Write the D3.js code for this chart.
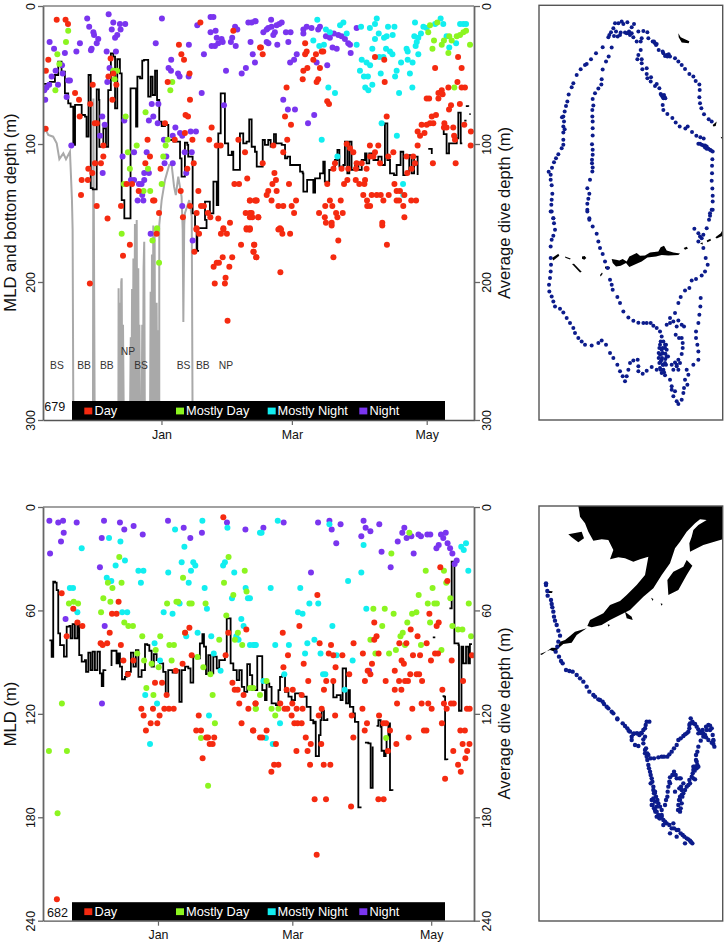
<!DOCTYPE html>
<html>
<head>
<meta charset="utf-8">
<style>html,body{margin:0;padding:0;background:#fff}svg{display:block}text{font-family:"Liberation Sans",Arial,sans-serif}</style>
<script src="https://cdnjs.cloudflare.com/ajax/libs/d3/7.8.5/d3.min.js"></script>
</head>
<body>
<svg id="chart" width="727" height="944"></svg>
<script>
// ---- shared labels ----
const monthTickDays = [0, 59, 120];
const monthTickLabels = ["Jan", "Mar", "May"];
const legendLabels = ["Day", "Mostly Day", "Mostly Night", "Night"];
const legendColors = ["#f52a10", "#8cf520", "#12eef0", "#7a35ef"];
const ticksTop = [0, 100, 200, 300];
const ticksBottom = [0, 60, 120, 180, 240];
const regionLabels679 = [["BS",-47.3,263],["BB",-35,263],["BB",-24.7,263],["NP",-15.2,253],["BS",-9.2,263],["BS",10,263],["BB",18.7,263],["NP",29.2,263]];

// ---- seal 679: [day relative to 1 Jan, depth m] ----
const mld679 = [[-53.5,56.5],[-50.5,55],[-48.2,50],[-46.7,40.3],[-45.2,47.6],[-43.7,63.3],[-42.2,70.5],[-41.1,73],[-39.9,100.7],[-39.1,71.7],[-37.6,71.7],[-36.1,79],[-34.6,80.2],[-33.9,94.7],[-33,50],[-32,50],[-32,132],[-31.1,132.9],[-29.3,60.4],[-28.3,68],[-28.1,102],[-27.1,102],[-26.3,88.6],[-25.1,102],[-24.1,60.9],[-22.9,34.3],[-21.8,36.7],[-21,74.2],[-20,38.6],[-18.8,48.8],[-18,140.6],[-16.8,153.9],[-16.1,153.9],[-14,59.7],[-13,59.7],[-11.5,87.4],[-10.9,51.2],[-9.7,52.4],[-8.7,39.6],[-7.9,39.1],[-6,65.7],[-4.9,51.2],[-4,64.5],[-2.9,46.9],[-2,68.1],[-1,83.8],[0.1,87],[1.6,86.2],[3.1,97.1],[5.4,98.3],[8.4,110.4],[9.1,123.7],[10.6,99],[11.7,100.7],[12.1,109.2],[12.9,109.2],[14.1,150.2],[15.2,161.1],[15.9,177.5],[17,177.5],[16.2,161],[18.2,161],[20.4,155],[19.7,141.8],[21.2,141.8],[21.9,150.2],[23.5,127.3],[25,144.2],[25.7,92.3],[26.8,63.3],[27.7,63.3],[28.7,99.5],[30.2,108],[31.8,105.6],[32.5,118.8],[34,118.8],[35.5,92.3],[37,99.5],[38.5,98.3],[39.7,82.1],[40.8,102],[42.3,105.6],[43.1,116.4],[44.3,116.4],[45.8,97.1],[46.8,100.7],[48.3,97.1],[49.4,101.9],[50.9,92.8],[51.8,99.5],[54.4,100.7],[55.9,110.4],[56.9,109.2],[58.2,115.2],[61.2,115.2],[62.7,120],[63.9,121.3],[64.2,134.5],[65.7,134.5],[65.9,126],[67.5,126],[68.7,135.3],[69.5,124.9],[71.7,121.3],[73.2,112.8],[73.9,127.3],[75.9,118.8],[78.5,111.6],[79.6,104.3],[80.5,116.4],[82.3,115.2],[83,98.3],[84.1,121.3],[85,98.3],[86,118.8],[87.6,114],[89.1,118.8],[90.6,111.6],[92.1,106.8],[92.8,114],[94,106.8],[95.9,111.6],[98.1,109.2],[99.6,115.2],[101.1,85],[102.2,111.6],[103.4,121.3],[105.2,122.5],[106.4,115.2],[108.2,105.6],[109.4,122.5],[110.9,121.3],[112.1,108],[113.2,121.3],[114.3,109.2],[115.9,122.5],null,[120.7,103.6],[121.5,103.6],[122.3,107.2],null,[127.2,87],[127.7,92.8],[129,106.8],[130.1,99.5],[131.3,99.5],[133.6,95.9],[134.3,77.3],[135.1,77.3],[135.4,99.5],[136.1,99.5],null,[137.7,72.5],[138.8,73],null,[139.3,78.3],[139.9,78.3],null,[137,83.1],[138,83.1]];
const bottom679 = [[-53.5,92.3],[-52.7,88.6],[-51.2,93.5],[-49,94.7],[-47.4,99.5],[-46.2,111],[-44.4,106.8],[-43.2,111],[-41.4,105.6],[-40.5,140.6],[-40.2,162],[-39.9,286.7],[-39.7,310],[-31,310],[-30.8,67],[-30.2,310],[-19.5,310],[-19.4,204.6],[-19.1,310],[-18.8,215],[-18.5,310],[-18.2,200],[-18,197.3],[-17.7,310],[-17.4,231],[-17,310],[-14.3,310],[-13.9,240],[-13.6,310],[-13.3,205],[-13,310],[-12.7,183],[-12.4,310],[-12,158],[-11.7,310],[-11.2,155],[-10.9,310],[-10.5,190],[-10.2,310],[-10,231],[-9.7,310],[-9,310],[-8.7,231],[-8.4,310],[-8.1,190],[-7.8,170.8],[-7.5,310],[-7.3,310],[-5.2,310],[-4.9,207],[-4.6,310],[-4.3,180],[-4,310],[-3.7,159],[-3.4,310],[-3.1,166],[-2.8,310],[-2.5,250],[-2.2,215],[-1.9,310],[-1.6,235],[-1.3,310],[-1,310],[-1,158.7],[0.1,140.6],[1.6,126],[3.5,115.2],[4.6,115.2],[5.7,130.9],[6.5,137],[7.6,123.7],[9.1,138.2],[9.6,162],[9.9,229],[10.3,158.7],[10.6,150.2],[12.6,140.6],[13.7,152.7],[14.1,310],[14.6,310]];
const night679 = [[-33.6,9],[-23.9,6],[-32.7,15],[-21.8,12],[-18.8,13],[-16.4,13],[-18.5,17],[-22.5,17],[-30.8,19],[-30.5,21],[-28.6,24],[-29.3,27],[-36.9,27],[-50.6,26],[-48.6,31],[-43.7,34],[-38.5,33],[-31.9,32],[-31.6,31],[-24.8,33],[-20.6,33],[-20,21],[-21,23],[0.2,9],[-2.6,27],[12.4,28],[4.4,39],[3.2,45],[4.3,47],[7.5,49],[8.2,51],[12.3,51],[16.2,14],[22.2,8],[23.5,8],[22.2,19],[24.5,18],[25,23],[27.2,24],[27.7,26],[25.7,27],[24.2,29],[22.7,29],[19.2,35],[31.4,26],[32,23],[33.6,29],[33.3,15],[34.3,17],[39.3,12],[40.8,12],[42.6,11],[40.3,26],[41.3,35],[42.3,41],[38.2,45],[36.3,49],[29.2,47],[18.2,63],[28.3,72],[-45,43],[-44.7,49],[-47.9,47],[-49.7,51],[-46.8,57],[-50.8,57],[-52,59],[-53,61],[-52.6,68],[-42.9,66],[-42.2,54],[-41.4,54],[-23.5,45],[-24.5,55],[-4.4,71],[-1.4,71],[-26.8,80],[-25.7,86],[-27.8,94],[-16.8,83],[-3.7,80],[-5.7,83],[-1.7,85],[6.3,88],[5.1,94],[8.4,92],[9.4,94],[13.2,91],[15.6,91],[1.1,97],[-40.8,101],[-17.6,109],[-12.4,106],[-6.7,106],[2.2,109],[1.4,114],[5.1,114],[10.5,106],[13.7,106],[11.2,121],[-26.6,121],[-13.8,126],[-12.4,126],[-7.8,121],[-5.7,121],[-7.8,126],[-10.2,129],[-9,129],[-8.7,137],[-10.8,141],[-8.2,141],[9.4,145],[-4.9,165],[14.1,170],[49.6,10],[42.3,11],[54.4,12],[53.3,13],[52.1,14],[49.8,15],[48.3,16],[46.1,19],[47.6,17],[51.3,19],[50.6,21],[56.3,19],[58.4,19],[64.2,17],[64.2,20],[65.7,15],[67.9,16],[71.7,15],[70.9,17],[74.4,22],[76.2,23],[78,20],[80,21],[81.5,22],[83,24],[84.5,27],[88.3,16],[85.6,34],[47.6,26],[48.4,27],[52.4,28],[57.4,26],[58.2,41],[60,39],[61.2,35],[70.2,41],[75,43],[55.1,68],[57.2,75],[60.4,75],[69.1,79],[66.3,85],[77.4,30],[79.3,31],[85.3,28]];
const mostlyNight679 = [[70.5,10],[82.3,12],[80.8,14],[74.4,17],[76.2,19],[83.8,20],[68.7,25],[71.4,29],[73.5,28],[90.3,15],[94.3,16],[97.4,9],[96.6,13],[102.5,15],[105.4,15],[98.3,20],[104.6,21],[101.9,22],[100.7,23],[96.6,24],[88.3,28],[95.4,31],[101.6,31],[103.4,33],[104.5,35],[98.6,37],[100.4,37],[110.9,31],[111.4,33],[90.6,39],[92.8,41],[94.4,43],[89.8,47],[91.6,51],[93.4,51],[92.2,59],[93.6,61],[95.4,57],[99.2,49],[106.4,47],[105.7,51],[108.4,41],[111.4,39],[113.6,41],[112.4,49],[113.5,59],[107.5,63],[114.7,12],[120,16],[118.5,15],[117.4,20],[114.4,22],[115.5,26],[116.2,23],[115,29],[116.2,35],[126.3,9],[123.8,13],[127.5,13],[136.6,13],[135.1,13],[137.8,13],[129,22],[130.2,30],[133.3,27],[75.5,59],[78.5,63],[99.6,85],[106.5,94],[72.5,97],[79.6,109],[109.3,129],[109.4,137]];
const mostlyDay679 = [[121.5,14],[124.8,12],[120.7,19],[123.3,25],[126.8,28],[122.6,31],[129.8,34],[127.8,25],[130.2,22],[131.3,25],[133.6,22],[135.1,21],[136.6,19],[137.8,18],[139.6,28],[132.5,59],[-42.2,18],[-43.2,26],[-47.1,35],[-46.2,42],[-21.8,47],[-20.1,47],[-21.2,53],[-48,61],[4.9,55],[4,61],[-7.2,77],[-16.2,80],[-11.2,101],[-15.2,106],[1.9,101],[2.8,97],[-14.3,118],[-6.1,118],[-17,129],[0.1,129],[-8.1,134],[-5.1,134],[-2,161],[0.8,109],[-18,165],[-2,162],[-4.1,170],[-1.1,186]];
const day679 = [[-47.4,10],[-43.4,10],[-42.3,13],[-51.2,39],[-52.3,47],[-23,38],[-24,51],[-21.8,49],[-20.4,57],[-31.1,57],[-39.1,63],[-37.3,68],[-32.2,71],[-22.2,68],[-37,80],[-30.2,85],[-29.2,85],[-26.3,101],[-26.3,109],[-30.1,114],[-27.4,114],[-33.1,118],[-31.3,121],[-36.1,126],[-33.3,126],[-36.4,137],[-29.3,145],[-24.4,154],[-18.3,145],[-15.8,129],[-13.3,129],[-10.3,134],[-7.3,114],[-5.2,109],[-6.3,97],[-3.8,141],[-3.2,141],[-1.1,150],[-0.4,118],[1.6,85],[2.8,55],[12.7,49],[9,35],[10.2,39],[7.9,28],[17.6,12],[32.5,18],[12.9,68],[10.9,79],[12,80],[10.6,92],[6,97],[14,97],[14.6,114],[11.7,118],[8.7,134],[16.7,134],[12.9,145],[9.7,153],[15.9,150],[17.9,145],[19.2,145],[21,150],[22.1,153],[25.7,154],[22.7,88],[21.6,97],[25,101],[26.8,101],[34.8,97],[37.8,106],[33,129],[35.1,129],[38.8,125],[40,141],[42.8,141],[38.1,150],[40.8,150],[41.1,153],[43.8,153],[31,157],[28,161],[38.5,161],[40,161],[15.9,161],[44.6,30],[-52.4,89],[-14.3,173],[-17.4,181],[-2.2,165],[-32.4,201],[15.8,162],[17,165],[14.9,178],[24.1,201],[28.7,201],[29,197],[23.6,189],[25,186],[26,186],[27.7,182],[32,182],[30.7,189],[29.9,228],[36,173],[41.9,173],[41.6,178],[42.9,182],[26.9,165],[29.6,165],[28,162],[38.5,162],[39.7,162],[45,30],[45.8,35],[65,27],[65.7,33],[65,35],[69.9,35],[72.5,33],[73.2,33],[68.7,39],[71.7,45],[66,45],[64.2,47],[63.9,53],[70.9,53],[70.2,55],[56.6,59],[75,69],[75.8,71],[55.9,80],[58.6,86],[56.9,97],[45.8,114],[96.6,37],[100.8,39],[101,55],[134.2,37],[123.8,45],[135.8,45],[133.9,55],[129.8,59],[135.8,59],[137.3,59],[126.8,61],[125.3,63],[127.2,64],[120,67],[121.1,67],[125.3,67],[135,71],[131,72],[130.1,75],[122.3,80],[124.2,79],[121.5,85],[123,85],[117.7,86],[120,86],[115.9,91],[117,94],[119,92],[128,85],[127.8,88],[129,88],[132,88],[137,86],[140,91],[132.4,94],[132.8,97],[115.9,101],[139.9,101],[101.9,80],[122.8,114],[133.1,114],[104.9,106],[102.6,109],[94.3,101],[98.1,101],[96.6,106],[83.8,100],[85.3,103],[86.8,106],[50.6,101],[55.1,106],[78.5,114],[77.8,118],[81.5,118],[84.5,118],[88.3,114],[90.6,114],[92.8,118],[88,118],[94.4,109],[95.9,109],[98.9,114],[110.9,109],[113.9,109],[114.7,114],[113.2,118],[111.2,121],[51.1,121],[51.8,126],[50.2,129],[48.3,134],[52.1,134],[47.6,137],[57.7,129],[42.3,141],[43.1,141],[49.8,141],[52.9,145],[55.1,145],[58.9,145],[60.9,141],[60,150],[75,129],[84.1,126],[82.6,129],[87.9,126],[92.1,126],[89.5,129],[91.8,129],[91.3,137],[93,141],[95.1,137],[97.4,137],[99.2,137],[102.8,137],[106.4,141],[107.5,141],[109.9,137],[113,141],[115.2,141],[93.1,145],[94.4,145],[100.4,141],[105.4,129],[106.4,134],[107.9,134],[76.2,141],[81.1,141],[74.1,145],[77.3,145],[79,150],[71.3,150],[82,150],[73.9,153],[79.6,153],[74.4,157],[77,157],[99.9,157],[109.9,153],[53.6,161],[43.8,153],[40,153],[40,150],[109.4,145],[40,141],[40,162],[52.9,162],[54.1,162],[54.7,165],[58.2,165],[77,159],[99.9,159],[80,170],[42,173],[41.7,178],[42.9,182],[77.8,182],[53.8,193],[102,173]];

// ---- seal 682 ----
const mld682 = [[-47.7,77.4],[-46.7,87],[-46.3,87],[-46,43.3],[-45.2,43.9],[-44.5,48.2],[-43.8,73.3],[-43,80.1],[-41.9,80.1],[-41.3,86.8],[-40.1,69.4],[-38.9,69],[-38.4,76.2],[-37.5,67.9],[-36.5,76.2],[-35.4,66.5],[-34.6,85.9],[-33.5,89.7],[-32.1,88.8],[-31.6,95.6],[-30.6,84.5],[-29.6,94.6],[-28.7,83.9],[-27.7,94.6],[-26.6,83.9],[-25.5,96.5],[-24.7,103.9],[-24,94.6],[-23.1,94.2],null,[-20.8,91.7],[-20.4,83.4],[-19.3,83.4],[-18.2,90.7],[-17.4,84.9],[-16.7,92.6],[-15.8,100],[-14.5,98.5],[-13.8,95.6],[-12.6,95.6],[-11.9,84.5],[-10.8,92.6],[-9.7,83],[-8.6,98.5],[-7.2,94.6],[-5.7,79.5],[-4.7,80.1],[-3.8,83.4],[-2.8,92.6],[-1.8,85.3],[-0.6,88.8],[0.9,90.7],[2.3,95.6],[3.4,109.1],[4.5,94.6],[6.4,96.1],[8.2,94.6],[9.4,113],[10.4,94.6],[11.9,92.6],[13.3,93.6],[14.3,101.9],[15.5,86.8],[17,87.8],[18.4,79.1],[19.5,73.7],[20.2,81],[21.1,96.9],[22.1,85.9],[23.1,96.5],[24.3,86.8],[25.8,93.6],[26.9,88.8],[28,88.8],[29.4,86.8],[30.2,64.6],[30.9,64.6],[31.9,90.7],[33.1,94.6],[34.6,100.4],[35.7,94.6],[36.8,104.3],[37.9,107.2],[39.2,91.1],[40.4,97.5],[41.4,106.2],[43.6,86.5],[44.8,86.5],[45.8,106.2],[47,112],[47.7,102.3],[48.9,104.3],[49.9,113.9],[51.8,114.9],[52.9,106.2],[53.6,98.5],[54.6,97.5],[55.8,107.2],[57.3,110],[58.7,112],[60.2,108.1],[62.4,109.1],[63.8,110],[65.3,115.9],[67,123.6],[68.2,125.5],[69,124.5],[69.3,144.5],[70.1,144.5],[70.7,132.3],[71.4,123.6],[71.9,118.2],[72.9,123.6],[74.4,122.6],null,[76.4,102.3],[77,110.4],[78.5,109.1],[80.2,112],[81.1,93.6],[81.9,93.6],[82.6,113.9],[83.6,106.2],[84.3,115.9],[85.8,119.7],[86.5,124.6],[88,133.3],[88,174.3],[89,174.7],null,[90.9,136.7],[92.4,137.1],[93.4,162.9],[94,162.9],[94.3,139],null,[96,127],[96.8,123.6],[97.8,127.5],[98.2,141.4],[99.3,144.5],[100,142.6],[100.4,133.3],[101.2,125.5],[101.9,164.2],[103,164.6],null,[120.7,75.6],[121.8,75.6],null,[125,109.7],[125.6,110],[126.1,146.4],[127.1,146.8],null,[128,58.8],[128.7,58.8],[129,31.7],[129.9,31.7],[130.2,79.1],[132,80.1],[132.2,118.2],[132.7,118.2],[133.3,81],[134.1,90.7],[135.3,81],[136.3,90.7],[137,79.5],[137.9,79.5]];
const night682 = [[-47.7,8],[-43.8,9],[-41.7,8],[-35.7,9],[-41.4,15],[-42.6,20],[-47.4,27],[-23.7,8],[-16.7,9],[-10.7,11],[-14.8,13],[-24.7,18],[-6.7,16],[4.4,8],[11.3,12],[14.2,18],[19.3,15],[30.3,9],[38.4,13],[-25.5,35],[-40.6,65],[-23.4,69],[-24.6,114],[46.3,12],[55.2,9],[70.3,9],[75.3,8],[76.3,13],[80.2,10],[90.3,8],[91.2,12],[93.3,14],[97.2,10],[78.3,21],[89.3,17],[67.2,38],[98.2,26],[102.2,35],[105.3,20],[107.3,15],[108.2,12],[109.2,18],[111.3,17],[114.4,16],[115.5,17],[118.3,16],[119.6,16],[124.3,16],[126.4,15],[125.3,18],[123.3,22],[122.3,24],[127.2,21],[128.3,24],[129.3,27],[131.2,31],[130.3,33],[112.3,27],[92.7,95]];
const mostlyNight682 = [[-21.5,18],[-16.5,20],[-33.5,24],[19.5,8],[7.5,13],[30.5,12],[11.6,23],[44.8,15],[-14.5,31],[-18.6,34],[10.4,32],[15.5,32],[16.4,34],[14.5,37],[-8.6,37],[-6.4,37],[4.5,38],[29.4,32],[28.6,34],[33.5,38],[-22.5,41],[-20.5,43],[-7.5,44],[13.5,44],[-38.7,47],[-37.3,47],[20.5,47],[38.5,47],[32.5,53],[39.5,53],[-35.4,61],[-15.7,61],[-13.5,61],[2.5,61],[9.5,56],[6.4,62],[21.5,59],[36.6,65],[37.6,69],[17.4,73],[12.4,75],[23.4,75],[34.4,75],[35.4,77],[-1.5,79],[41.9,80],[43,80],[24.5,85],[0.9,89],[27.5,95],[-5.6,109],[-0.4,114],[22.4,121],[-3.5,137.5],[53.6,125.5],[47.4,134],[50.4,137.5],[45.5,15],[52.6,8],[75.3,10],[90.3,22],[89.3,38],[83.5,43],[49.5,47],[62.5,47],[66.5,56],[70.4,56],[61.5,61],[63.5,62],[76.6,69],[91.5,59],[133.2,23],[135.3,21],[134.3,25],[136.3,37],[40.4,53],[68.7,77],[65.6,79],[40.4,80],[42.5,80],[51.5,80],[57.5,80],[64.6,85],[71.4,85],[78.5,86],[85.5,89],[55.5,97],[72.5,97],[73.5,97],[46.3,101],[82,106]];
const mostlyDay682 = [[-17,29],[31,29],[38.1,37],[11,41],[29,44],[-16,44],[-22,44],[-20,47],[38.9,49],[33.1,51],[-24,53],[-20.9,55],[-39.1,56],[-37,55],[-35.1,56],[8.1,55],[8.9,55],[4,56],[13.8,56],[14.8,56],[20.9,56],[-25,61],[30,63],[-14.8,67],[-13,69],[-11,69],[11.9,73],[-6.9,75],[1,75],[35.1,73],[26.9,77],[33.8,77],[37,80],[-1,83],[5,80],[7,80],[-9.1,85],[-6.1,89],[-2.8,91],[0.3,93],[6,89],[17.3,87],[19.9,93],[23,97],[-5.1,105],[-2,109],[24,109],[-42.2,114],[40.4,105],[41.9,105],[43,117],[-47.9,141.6],[-40,141.6],[-44.1,177.6],[25,125.5],[18.9,134],[22,161.7],[100.2,134],[102.5,27],[110.4,15],[117.6,37],[125.6,37],[120.6,47],[126.6,44],[114.5,51],[128.4,53],[118.5,56],[121.4,56],[122.5,56],[136.5,56],[94.6,59],[99.6,59],[103.5,62],[111.6,62],[113.5,61],[109.5,67],[98.5,69],[119.5,67],[107.5,73],[106.5,75],[129.3,69],[131.8,71],[133.7,71],[137.5,75],[93.3,77],[104.5,83],[108.5,80],[115.5,80],[124.5,83],[95.5,85],[101.5,85],[47.7,101],[44.8,109],[42.9,117],[49.9,117],[52.9,117],[51.5,121]];
const day682 = [[28.7,6],[-42.3,50],[-17.3,55],[-37.2,59],[-20.2,62],[-18.2,62],[-35.4,67],[-33.2,69],[-21.2,73],[-40.1,75],[-25.2,79],[-24.3,80],[-22.3,79],[-16.3,80],[-15.2,89],[-10.8,89],[-13.2,97],[-1.3,102],[1.8,102],[3.8,109],[10.8,91],[7.8,95],[13.8,70],[14.8,86],[30.9,73],[38.8,71],[29.7,86],[32.7,102],[33.7,106],[35,106],[37.6,109],[35.7,114],[42.8,114],[39.7,117],[-7.3,117],[-2.2,117],[-6.3,121],[0.7,121],[2.8,117],[4.8,117],[6.9,117],[17.9,121],[11.9,73],[-3.2,125.5],[-0.3,125.5],[-5.3,129.6],[16.8,129.6],[18.9,129.6],[21.2,133.7],[22,133.7],[24.7,133.7],[22.7,137.5],[24,137.5],[19.6,145.7],[36.7,125.5],[41.7,129.6],[44.8,133.7],[-44.4,227.6],[41.9,129.6],[47.7,129.6],[45.8,133.7],[51.8,137.5],[59.9,125.5],[61.3,125.5],[63.1,125.5],[64.9,133.7],[67.1,137.5],[71.7,137.5],[60.8,141.6],[65.7,141.6],[51,149.5],[52.9,149.5],[49.8,153.6],[66.8,149.5],[72.8,149.5],[75.7,149.5],[68.8,169.6],[73.8,169.6],[69.7,201.7],[84.8,173.7],[85.8,133.7],[90.8,129.6],[91.8,125.5],[99,125.5],[100.2,125.5],[101.9,129.6],[104.7,137.5],[101,141.6],[110.1,133.7],[96.8,169.6],[99.1,169.6],[116.8,129.6],[117.9,129.6],[124.7,125.5],[129.7,141.6],[131.8,149.5],[133,153.6],[132.8,129.6],[134.8,129.6],[133.8,137.5],[136.8,137.5],[135.8,141.6],[135,145.7],[126.1,157.6],[70,51],[124,35],[127.1,43],[119.2,62],[123.3,67],[122.4,69],[111,71],[95,67],[62.1,69],[54.8,73],[96,75],[95,77],[114,75],[118,79],[71,79],[85.9,79],[106,79],[109.1,79],[76,80],[121.7,85],[123,85],[75,85],[77,86],[81,86],[90,85],[96.9,85],[57.1,86],[112,86],[115.1,86],[119.9,89],[107,89],[108,91],[129,89],[64,91],[94,91],[55.1,93],[78,93],[92.1,95],[104,95],[93.3,97],[84,97],[110.8,97],[113.6,97],[114.7,97],[66,101],[73.9,101],[77,101],[90.9,101],[100,101],[105.9,101],[108.5,101],[109.8,101],[116,101],[134,101],[72.9,106],[104,106],[106.9,106],[124.9,106],[56.5,106],[59.2,106],[105,114],[115.8,114],[118.7,114],[125.6,114],[128.7,114],[129.9,114],[53.7,114],[42.9,114],[63.1,109],[59,114],[89.8,117],[111.7,117],[120.2,117],[126.8,117],[135.7,117],[136.9,117],[55.6,117],[56.8,117],[60.9,117],[63.5,117],[71.9,117],[58.7,121],[70.6,121],[77.8,121],[85.1,121],[97.1,121],[137.9,86]];

// ---- maps: [east, south] in arbitrary map units measured from the map frame ----
const track679 = [[255,70],[265,70],[275,65],[280,72],[292,67],[312,72],[305,82],[250,85],[243,97],[258,95],[235,112],[238,105],[252,108],[263,110],[272,98],[285,98],[297,95],[300,105],[310,112],[320,125],[332,125],[335,115],[325,95],[340,93],[352,97],[355,115],[290,100],[295,100],[270,105],[305,100],[218,142],[198,160],[183,178],[170,192],[165,195],[152,208],[140,225],[130,250],[125,262],[116,284],[112,305],[108,318],[104,335],[100,350],[96,352],[102,365],[100,380],[104,388],[100,398],[100,420],[100,435],[95,445],[85,463],[78,475],[72,487],[66,504],[56,516],[62,525],[62,540],[65,556],[67,582],[65,600],[64,615],[62,635],[70,655],[245,143],[236,170],[228,185],[218,209],[215,238],[214,254],[205,266],[195,280],[188,297],[190,317],[187,330],[187,350],[188,365],[188,385],[188,407],[186,433],[188,450],[188,465],[186,480],[186,490],[188,503],[187,515],[180,540],[172,565],[178,582],[175,597],[172,612],[172,630],[178,655],[332,150],[325,165],[322,178],[335,178],[335,190],[337,208],[350,205],[350,222],[352,235],[363,232],[362,245],[375,258],[380,252],[388,265],[392,282],[397,290],[404,292],[394,285],[398,288],[400,295],[406,295],[402,285],[398,315],[400,330],[412,342],[427,354],[437,368],[449,380],[466,386],[473,380],[486,396],[499,408],[511,412],[521,416],[505,432],[510,432],[515,435],[520,437],[525,437],[525,443],[530,440],[530,447],[535,447],[540,450],[543,452],[548,455],[372,125],[368,125],[375,130],[380,132],[378,135],[386,150],[398,155],[400,160],[405,168],[410,165],[412,170],[416,163],[420,170],[435,175],[445,185],[455,195],[465,207],[478,222],[490,230],[497,243],[508,254],[509,270],[508,292],[510,310],[514,325],[522,343],[536,358],[545,365],[547,478],[546,498],[546,520],[545,543],[547,566],[548,588],[548,605],[545,630],[540,648],[65,635],[70,655],[72,670],[75,690],[70,708],[65,720],[62,740],[62,775],[63,795],[62,815],[60,835],[57,855],[58,875],[65,890],[70,905],[75,920],[90,927],[100,938],[110,955],[120,970],[130,985],[135,1000],[145,1015],[155,1025],[165,1035],[185,1037],[205,1030],[215,1022],[228,1035],[240,1060],[250,1075],[262,1095],[270,1115],[278,1130],[285,1145],[290,1130],[295,1110],[300,1090],[310,1082],[323,1080],[325,1100],[325,1115],[338,1122],[350,1113],[365,1102],[380,1110],[395,1120],[405,1127],[420,1140],[425,1160],[425,1170],[435,1175],[430,1190],[440,1205],[445,1213],[455,1200],[460,1180],[462,1165],[472,1155],[465,1140],[475,1125],[470,1110],[490,1095],[505,1080],[505,1055],[502,1035],[498,1015],[498,995],[505,970],[508,945],[511,920],[512,895],[172,635],[178,660],[188,680],[200,702],[205,725],[210,745],[218,763],[225,785],[233,805],[240,840],[245,855],[248,870],[262,892],[270,910],[280,935],[295,953],[310,963],[325,969],[340,970],[350,970],[362,970],[370,978],[380,985],[390,995],[395,1010],[400,1025],[390,1035],[395,1050],[405,1045],[390,1065],[395,1080],[400,1095],[390,1105],[400,1110],[410,1070],[405,1035],[398,1060],[392,1085],[405,1090],[392,1025],[408,1035],[388,1045],[398,1045],[410,1050],[386,1060],[396,1062],[406,1062],[414,1070],[386,1075],[396,1075],[406,1078],[388,1090],[398,1095],[408,1095],[392,1110],[402,1118],[410,975],[420,955],[435,940],[445,910],[452,892],[465,872],[478,865],[485,842],[498,838],[515,827],[525,815],[533,795],[527,775],[520,745],[505,725],[510,710],[520,705],[505,700],[515,715],[493,687],[530,685],[537,660],[540,640],[548,630],[420,970],[430,965],[445,962],[455,975],[462,980],[440,980],[437,1005],[447,1015],[455,1015],[458,1030],[458,1045],[455,1063],[445,1080],[440,1095],[425,1095],[430,1110],[440,1100],[445,1110],[435,1088],[450,1090]];
const land679 = [
  [[445,100],[452,112],[478,124],[476,130],[455,128],[446,112]],
  [[548,375],[560,365],[557,378],[550,380]],
  [[572,411],[577,413],[574,417]],
  [[245,778],[258,780],[268,782],[278,778],[290,785],[298,770],[320,760],[330,768],[345,767],[360,758],[385,755],[392,742],[402,738],[410,752],[430,758],[450,761],[445,766],[415,767],[395,766],[378,770],[352,773],[335,785],[318,793],[298,802],[288,790],[272,798],[258,800],[248,790]],
  [[156,770],[164,769],[169,775],[163,780],[156,777]],
  [[461,745],[470,741],[474,746],[465,750]],
  [[126,793],[132,792],[155,816],[150,818]],
  [[66,775],[85,762],[88,768],[70,782]],
  [[105,770],[122,776],[120,779],[106,774]],
  [[510,730],[518,728],[518,735]],
  [[530,722],[541,717],[543,722],[532,727]],
  [[556,712],[572,700],[578,690],[578,708],[560,716]],
  [[225,800],[240,802],[238,808],[225,806]],
  [[210,826],[216,818],[218,822],[212,830]]
];
const track682 = [[48,250],[48,255],[52,273],[53,287],[63,300],[65,312],[67,322],[70,335],[72,350],[75,362],[80,375],[85,392],[90,407],[85,425],[82,440],[77,455],[87,470],[93,483],[98,490],[108,510],[118,513],[128,515],[140,525],[150,535],[160,545],[170,560],[178,575],[195,590],[210,600],[222,612],[235,625],[250,640],[262,655],[190,585],[205,598],[218,605],[230,620],[245,635],[262,658],[278,670],[292,685],[300,695],[305,710],[315,735],[325,738],[340,730],[345,710],[335,700],[345,685],[350,665],[358,665],[320,700],[345,750],[350,770],[355,795],[360,815],[365,835],[370,860],[372,880],[378,890],[385,910],[390,920],[395,945],[380,920],[368,915],[365,900],[375,930],[380,950],[395,950],[410,970],[425,985],[440,990],[430,970],[445,990],[458,1005],[470,1015],[480,1022],[487,1030],[355,765],[372,775],[395,770],[412,770],[425,755],[440,735],[445,720],[460,708],[470,700],[478,685],[482,655],[480,670],[490,670],[500,680],[510,695],[520,710],[535,675],[545,685],[548,705],[553,740],[535,720],[520,700],[505,740],[498,765],[497,800],[500,805],[490,810],[485,830],[495,838],[480,850],[470,860],[460,880],[450,890],[445,915],[450,935],[455,910],[455,870],[452,835],[440,835],[432,815],[420,832],[415,860],[412,890],[405,915],[395,930],[340,718],[328,705],[312,700],[305,720],[352,780],[362,850],[374,880],[382,900],[376,935],[388,955],[400,975],[420,1000],[440,1010],[465,1030],[505,700],[518,690],[540,690],[550,720],[500,785],[494,812],[490,800],[460,850],[448,865],[450,900],[420,850],[435,875],[375,905],[285,678],[296,692],[310,702],[322,700],[333,699],[340,690],[347,675],[348,745],[352,760],[345,760],[357,805],[362,825],[367,845],[370,870],[375,875],[370,895],[365,915],[372,925],[380,935],[385,945],[390,955],[400,960],[405,965],[418,975],[432,985],[452,1000],[463,1010],[475,1018],[483,1026],[362,775],[385,772],[402,770],[418,763],[432,745],[452,715],[465,703],[475,695],[478,675],[487,665],[495,672],[505,688],[515,700],[525,705],[530,690],[528,680],[540,677],[550,722],[550,732],[545,728],[528,712],[512,722],[502,755],[498,780],[502,795],[505,800],[493,800],[488,820],[490,835],[478,840],[475,855],[465,870],[455,885],[447,900],[444,930],[452,925],[457,890],[453,860],[448,835],[437,825],[427,825],[418,845],[413,875],[408,900]];
const land682 = [
  [[145,18],[148,35],[150,50],[165,70],[175,95],[190,122],[215,118],[235,120],[250,150],[240,178],[265,172],[285,175],[310,185],[330,178],[355,170],[345,225],[320,255],[290,285],[270,303],[240,315],[220,340],[180,360],[172,378],[185,382],[215,375],[240,360],[270,345],[300,330],[340,290],[370,265],[395,225],[420,190],[430,160],[435,145],[450,125],[470,95],[495,70],[510,58],[530,60],[505,75],[490,90],[485,110],[478,130],[480,155],[520,135],[578,118],[578,18]],
  [[115,103],[155,95],[162,115],[145,127],[125,112]],
  [[470,180],[487,197],[470,225],[445,270],[415,285],[412,240],[430,215],[460,200]],
  [[120,408],[135,395],[170,385],[140,405],[125,428],[100,432],[85,445],[75,458],[90,425],[105,420]],
  [[85,444],[65,443],[35,465],[30,462],[60,450],[75,455]],
  [[363,293],[370,297],[368,303]],
  [[392,310],[398,312],[394,317]],
  [[285,335],[305,350],[308,360],[290,355]],
  [[233,373],[240,375],[235,380]],
  [[52,272],[68,274],[66,279],[54,279]]
];

// ---- drawing ----
const svg = d3.select("#chart");
const axisGray = "#666";
const dayScaleConfig = {x0:43, x1:474};

function drawPanel(cfg) {
  const x = d3.scaleLinear().domain(cfg.dayDomain).range([dayScaleConfig.x0, dayScaleConfig.x1]);
  const y = d3.scaleLinear().domain([0, cfg.maxDepth]).range([cfg.top, cfg.bottom]);
  const g = svg.append("g");
  const clipId = "clip" + cfg.id;
  svg.append("clipPath").attr("id", clipId).append("rect")
    .attr("x", x.range()[0]).attr("y", cfg.top).attr("width", x.range()[1]-x.range()[0]).attr("height", cfg.bottom-cfg.top);
  const plot = g.append("g").attr("clip-path", `url(#${clipId})`);
  const line = d3.line().defined(d => d !== null).x(d => x(d[0])).y(d => y(d[1]));
  const stepLine = d3.line().defined(d => d !== null).x(d => x(d[0])).y(d => y(d[1])).curve(d3.curveStepAfter);
  if (cfg.bottomDepth) {
    plot.append("path").attr("d", line(cfg.bottomDepth)).attr("fill","none").attr("stroke","#a9a9a9").attr("stroke-width",2);
  }
  plot.append("path").attr("d", stepLine(cfg.mld)).attr("fill","none").attr("stroke","#000").attr("stroke-width",1.8);
  cfg.dots.forEach(s => {
    plot.append("g").selectAll("circle").data(s.values).join("circle")
      .attr("cx", d => x(d[0])).attr("cy", d => y(d[1])).attr("r", 3).attr("fill", s.color);
  });
  (cfg.regions || []).forEach(r => {
    g.append("text").attr("x", x(r[1])).attr("y", y(r[2])).attr("text-anchor","middle")
      .attr("font-size",10.3).attr("fill","#333").text(r[0]);
  });
  // legend bar
  const barH = cfg.barHeight;
  g.append("rect").attr("x",72).attr("y",cfg.bottom-barH).attr("width",373).attr("height",barH).attr("fill","#000");
  const swatchX = [84.3,176,267.7,359.3], textX = [94.5,186,277.5,369.5];
  const swY = cfg.bottom-12.4;
  legendLabels.forEach((t,i) => {
    g.append("rect").attr("x",swatchX[i]).attr("y",swY).attr("width",8).attr("height",6.8).attr("fill",legendColors[i]);
    g.append("text").attr("x",textX[i]).attr("y",cfg.bottom-4.8).attr("font-size",12.8).attr("fill","#fff").text(t);
  });
  g.append("text").attr("x",cfg.idX).attr("y",cfg.bottom-9.3+(cfg.id==="682"?5.5:0)).attr("font-size",12.6).attr("fill","#111").text(cfg.id);

  // axes
  const leftAxis = d3.axisLeft(y).tickValues(cfg.ticks).tickSize(5).tickSizeOuter(0);
  const rightAxis = d3.axisRight(y).tickValues(cfg.ticks).tickSize(6).tickSizeOuter(0);
  const bottomAxis = d3.axisBottom(x).tickValues(monthTickDays).tickFormat((d,i)=>monthTickLabels[i]).tickSize(5).tickSizeOuter(0);
  const la = g.append("g").attr("transform",`translate(${dayScaleConfig.x0},0)`).call(leftAxis);
  const ra = g.append("g").attr("transform",`translate(${dayScaleConfig.x1},0)`).call(rightAxis);
  const ba = g.append("g").attr("transform",`translate(0,${cfg.bottom})`).call(bottomAxis);
  g.append("line").attr("x1",dayScaleConfig.x0).attr("x2",dayScaleConfig.x1).attr("y1",cfg.top).attr("y2",cfg.top).attr("stroke","#444").attr("stroke-width",1.2);
  [la,ra].forEach(a => {
    a.select(".domain").attr("stroke",axisGray).attr("stroke-width",1.8);
    a.selectAll(".tick line").attr("stroke",axisGray).attr("stroke-width",1.3);
  });
  ba.select(".domain").attr("stroke","#555").attr("stroke-width",1.3);
  ba.selectAll(".tick line").attr("stroke",axisGray).attr("stroke-width",1.2);
  la.selectAll(".tick text").attr("font-size",12.4).attr("fill","#111").attr("font-family","Liberation Sans")
    .attr("text-anchor","middle").attr("dy",0).attr("x",0).attr("transform","translate(-7,0) rotate(-90)").attr("y",-1.5);
  ra.selectAll(".tick text").attr("font-size",12.4).attr("fill","#111").attr("font-family","Liberation Sans")
    .attr("text-anchor","middle").attr("dy",0).attr("x",0).attr("transform","translate(17,0) rotate(-90)").attr("y",0);
  ba.selectAll(".tick text").attr("font-size",12.4).attr("fill","#111").attr("font-family","Liberation Sans").attr("y",10).attr("dy","0.71em");

  // titles
  g.append("text").attr("transform",`translate(16,${cfg.leftTitleY}) rotate(-90)`).attr("text-anchor","middle")
    .attr("font-size",16.6).attr("fill","#111").text(cfg.leftTitle);
  g.append("text").attr("transform",`translate(510,${cfg.rightTitleY}) rotate(-90)`).attr("text-anchor","middle")
    .attr("font-size",16.6).attr("fill","#111").text("Average dive depth (m)");
}

function drawMap(cfg) {
  const mx = d3.scaleLinear().domain([27,578]).range([539,722.7]);
  const my = d3.scaleLinear().domain(cfg.southDomain).range([cfg.top,cfg.bottom]);
  const g = svg.append("g");
  const clipId = "mapclip"+cfg.id;
  svg.append("clipPath").attr("id",clipId).append("rect").attr("x",539).attr("y",cfg.top).attr("width",183.7).attr("height",cfg.bottom-cfg.top);
  const inner = g.append("g").attr("clip-path",`url(#${clipId})`);
  const area = d3.line().x(d=>mx(d[0])).y(d=>my(d[1]));
  inner.selectAll("path.land").data(cfg.land).join("path").attr("class","land")
    .attr("d",d=>area(d)+"Z").attr("fill","#000");
  inner.selectAll("circle").data(cfg.track).join("circle")
    .attr("cx",d=>mx(d[0])).attr("cy",d=>my(d[1])).attr("r",cfg.r).attr("fill","#0c1c8c");
  g.append("rect").attr("x",539).attr("y",cfg.top).attr("width",183.7).attr("height",cfg.bottom-cfg.top)
    .attr("fill","none").attr("stroke","#555").attr("stroke-width",1.4);
}

const seriesDots = (day,mday,mnight,night) => [
  {values:night,color:legendColors[3]},
  {values:mnight,color:legendColors[2]},
  {values:mday,color:legendColors[1]},
  {values:day,color:legendColors[0]}
];

drawPanel({id:"679",dayDomain:[-53.6,141.4],maxDepth:300,top:6,bottom:420,ticks:ticksTop,barHeight:19,idX:44.3,
  mld:mld679,bottomDepth:bottom679,regions:regionLabels679,
  dots:seriesDots(day679,mostlyDay679,mostlyNight679,night679),
  leftTitle:"MLD and bottom depth (m)",leftTitleY:212.5,rightTitleY:213});
drawPanel({id:"682",dayDomain:[-50.5,138.8],maxDepth:240,top:507,bottom:920.7,ticks:ticksBottom,barHeight:18.5,idX:47,
  mld:mld682,dots:seriesDots(day682,mostlyDay682,mostlyNight682,night682),
  leftTitle:"MLD (m)",leftTitleY:714,rightTitleY:713.5});
drawMap({id:"a",top:5.3,bottom:420,southDomain:[16,1261],land:land679,track:track679,r:2});
drawMap({id:"b",top:506,bottom:921,southDomain:[18,1263],land:land682,track:track682,r:2.2});
</script>
</body>
</html>
